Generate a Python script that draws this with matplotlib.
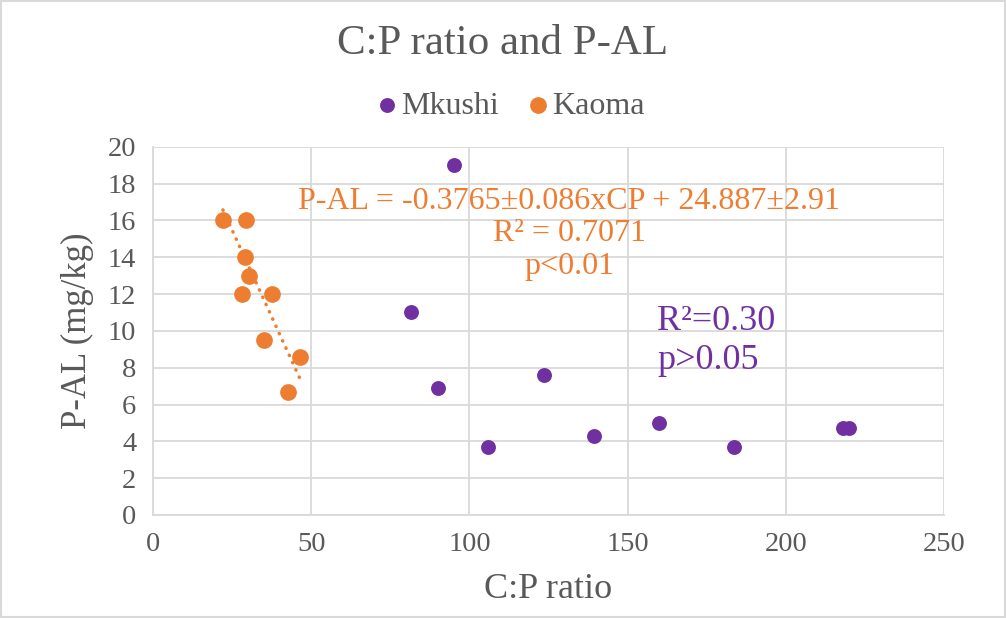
import matplotlib
matplotlib.use('Agg')
import matplotlib.pyplot as plt
import numpy as np

plt.rcParams['font.family'] = ['Liberation Serif', 'DejaVu Serif']

# data
mkushi_cp = [95.1, 81.7, 90.2, 123.5, 105.9, 139.3, 159.9, 183.7, 218.1, 220.1]
mkushi_pal = [19.0, 11.0, 6.9, 7.6, 3.7, 4.3, 5.0, 3.7, 4.7, 4.7]
kaoma_cp = [22.1, 29.5, 29.2, 30.3, 28.0, 37.5, 35.1, 46.6, 42.6]
kaoma_pal = [16.0, 16.0, 14.0, 13.0, 12.0, 12.0, 9.5, 8.6, 6.7]
slope, intercept = -0.3765, 24.887

purple = '#7030A0'
orange = '#ED7D31'
gray = '#595959'
grid_col = '#D9D9D9'

fig = plt.figure(figsize=(10.06, 6.18), dpi=100)
ax = fig.add_axes([153 / 1006, 1 - 515 / 618, (944 - 153) / 1006, (515 - 146.7) / 618])

ax.scatter(mkushi_cp, mkushi_pal, s=115, color=purple, label='Mkushi', zorder=3, linewidths=0)
ax.scatter(kaoma_cp, kaoma_pal, s=145, color=orange, label='Kaoma', zorder=3, linewidths=0)

# linear trendline for Kaoma
xt = np.array([min(kaoma_cp), max(kaoma_cp)])
ax.plot(xt, slope * xt + intercept, color=orange, lw=2.5, linestyle=(0, (0.1, 2.2)),
        dash_capstyle='round', zorder=2)

ax.set_xlim(0, 250)
ax.set_ylim(0, 20)
ax.set_xticks(np.arange(0, 251, 50))
ax.set_yticks(np.arange(0, 21, 2))
ax.grid(True, color=grid_col, lw=1.3)
ax.set_axisbelow(True)
for side in ['top', 'right']:
    ax.spines[side].set_visible(False)
for side in ['left', 'bottom']:
    ax.spines[side].set_color(grid_col)
    ax.spines[side].set_linewidth(1.3)
ax.tick_params(length=0, labelsize=20.5, labelcolor=gray, pad=12)

ax.set_xlabel('C:P ratio', fontsize=26, color=gray, labelpad=12)
ax.set_ylabel('P-AL (mg/kg)', fontsize=25, color=gray, labelpad=10)

fig.text(0.5, 1 - 44 / 618, 'C:P ratio and P-AL', fontsize=31, color=gray,
         ha='center', va='center')

fig.legend(loc='center', bbox_to_anchor=(0.508, 1 - 106 / 618), ncol=2, frameon=False,
           fontsize=23, labelcolor=gray, handlelength=0.6, handletextpad=0.15,
           columnspacing=0.9, markerscale=1.0)

ax.text(131.5, 17.05, 'P-AL = -0.3765±0.086xCP + 24.887±2.91', fontsize=23,
        color=orange, ha='center', va='center')
ax.text(131.5, 15.3, 'R² = 0.7071', fontsize=23, color=orange, ha='center', va='center')
ax.text(131.5, 13.5, 'p<0.01', fontsize=23, color=orange, ha='center', va='center')

ax.text(159.3, 10.5, 'R²=0.30', fontsize=26, color=purple, ha='left', va='center')
ax.text(159.3, 8.4, 'p>0.05', fontsize=26, color=purple, ha='left', va='center')

fig.patches.append(plt.Rectangle((0.001, 0.001), 0.998, 0.998, transform=fig.transFigure,
                                 fill=False, edgecolor=grid_col, lw=1.5))

fig.savefig('out.png', dpi=100)
